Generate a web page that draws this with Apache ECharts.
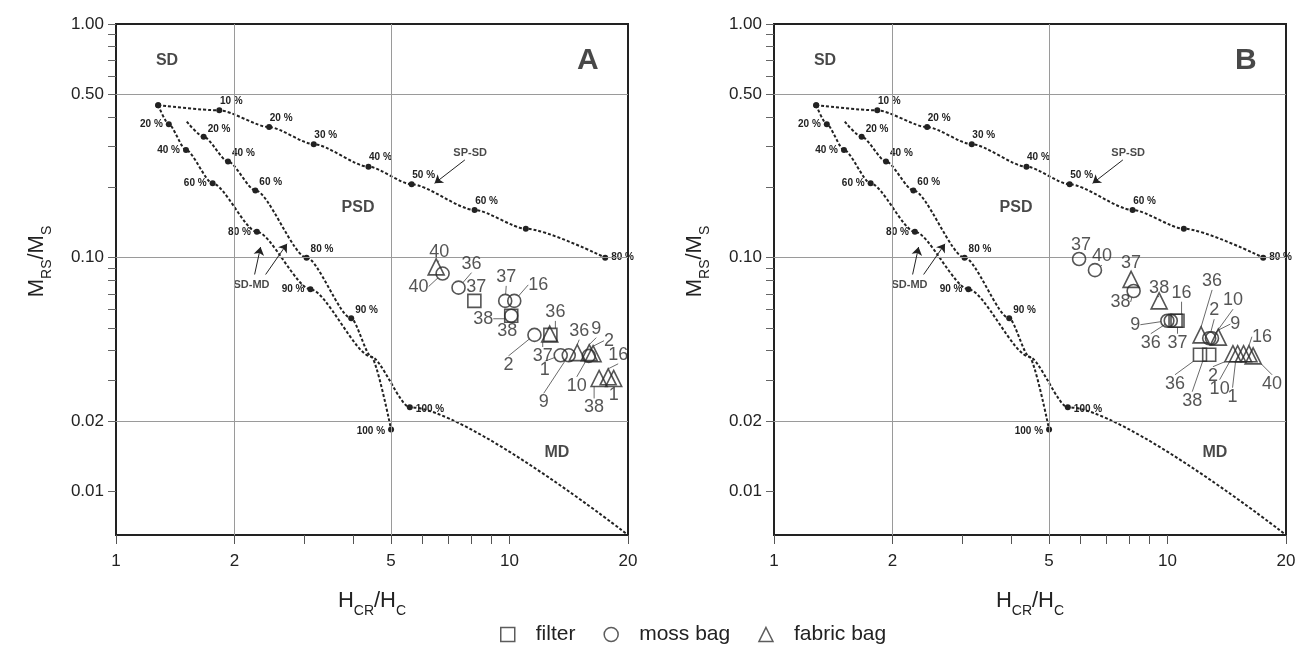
<!DOCTYPE html>
<html><head><meta charset="utf-8">
<script src="https://cdn.jsdelivr.net/npm/echarts@6/dist/echarts.min.js"></script>
<style>html,body{margin:0;padding:0;background:#fff}#c{width:1301px;height:648px}</style>
</head><body><div id="c"></div>
<script>
// ---------- axes ----------
const X_LABELS = [1, 2, 5, 10, 20];
const X_TICKS = [1, 2, 3, 4, 5, 6, 7, 8, 9, 10, 20];
const Y_LABELS = [0.01, 0.02, 0.10, 0.50, 1.00];
const Y_TICKS = [0.01, 0.02, 0.03, 0.04, 0.05, 0.06, 0.07, 0.08, 0.09, 0.1, 0.2, 0.3, 0.4, 0.5, 0.6, 0.7, 0.8, 0.9, 1.0];
const GRID_X = [2, 5];
const GRID_Y = [0.5, 0.1, 0.02];

// ---------- mixing curves (Dunlop 2002) ----------
// label: null = no dot, '' = dot without text
const SPSD_X = [1.28, 1.83, 2.45, 3.18, 4.38, 5.64, 8.15, 11.0, 17.5];
const SPSD_Y = [0.449, 0.427, 0.362, 0.306, 0.245, 0.206, 0.160, 0.133, 0.100];
const SPSD_LBL = ['', '10 %', '20 %', '30 %', '40 %', '50 %', '60 %', '', '80 %'];

const SDMD1_X = [1.28, 1.362, 1.506, 1.76, 2.28, 3.12, 4.45, 5.58, 20];
const SDMD1_Y = [0.449, 0.372, 0.289, 0.208, 0.129, 0.0732, 0.0377, 0.0229, 0.0065];
const SDMD1_LBL = ['', '20 %', '40 %', '60 %', '80 %', '90 %', null, '100 %', null];

const SDMD2_X = [1.513, 1.67, 1.926, 2.26, 3.05, 3.96, 4.45, 5.0];
const SDMD2_Y = [0.382, 0.329, 0.258, 0.194, 0.100, 0.055, 0.0377, 0.0184];
const SDMD2_LBL = [null, '20 %', '40 %', '60 %', '80 %', '90 %', null, '100 %'];

// ---------- samples, panel A ----------
const A_FILTER = [[8.14, 0.0653], [10.1, 0.0564], [12.7, 0.0467]];
const A_FILTER_ID = ['37', '38', '36'];
const A_MOSS = [[6.76, 0.0855], [7.42, 0.0744], [9.75, 0.0653], [10.28, 0.0653], [10.1, 0.0564], [11.57, 0.0467], [13.49, 0.0382], [14.14, 0.0382], [15.9, 0.038]];
const A_MOSS_ID = ['40', '36', '37', '16', '38', '2', '1', '9', '10'];
const A_FABRIC = [[6.51, 0.0913], [12.65, 0.0471], [14.86, 0.0392], [15.94, 0.0392], [16.3, 0.0388], [16.89, 0.0304], [17.81, 0.0309], [18.39, 0.0304]];
const A_FABRIC_ID = ['40', '37', '36', '9', '2', '38', '16', '1'];

// ---------- samples, panel B ----------
const B_FILTER = [[10.48, 0.0537], [10.6, 0.0537], [12.09, 0.0384], [12.76, 0.0384]];
const B_FILTER_ID = ['16', '37', '36', '38'];
const B_MOSS = [[5.96, 0.0987], [6.54, 0.0884], [8.2, 0.072], [9.99, 0.0537], [10.19, 0.0537], [12.76, 0.0452], [12.97, 0.0452]];
const B_MOSS_ID = ['37', '40', '38', '9', '36', '2', '10'];
const B_FABRIC = [[8.08, 0.0807], [9.52, 0.0653], [12.17, 0.0467], [13.46, 0.0457], [14.66, 0.0388], [15.07, 0.0388], [15.6, 0.0388], [16.1, 0.0388], [16.5, 0.038]];
const B_FABRIC_ID = ['37', '38', '36', '9', '2', '10', '1', '16', '40'];

// ---------- annotations (data coordinates) ----------
const REGIONS = [['SD', 1.348, 0.694], ['PSD', 4.12, 0.163], ['MD', 13.2, 0.0146]];
const CURVE_NAMES = [['SP-SD', 7.94, 0.2805], ['SD-MD', 2.21, 0.0764]];
const ARROWS = [[[2.25, 0.0847], [2.33, 0.111]], [[2.40, 0.0847], [2.72, 0.1146]], [[7.7, 0.262], [6.45, 0.208]]];
const PANEL_POS = [15.8, 0.694];
const PANELS = ['A', 'B'];

// ---------- styling (not data) ----------
const LBL_OFF = {
  A_FILTER: [[2, -14], [-28, 3], [5, -23]],
  A_MOSS: [[-24, 13], [13, -24], [1, -24], [24, -16], [-4, 15], [-26, 30], [-16, 15], [-25, 47], [-12, 30]],
  A_FABRIC: [[3, -15], [-7, 22], [2, -22], [7, -24], [16, -13], [-5, 29], [10, -22], [0, 17]],
  B_FILTER: [[6, -28], [0, 22], [-25, 29], [-17, 46]],
  B_MOSS: [[2, -14], [7, -14], [-13, 11], [-32, 4], [-20, 22], [5, -28], [21, -38]],
  B_FABRIC: [[0, -16], [0, -13], [11, -54], [17, -13], [-20, 22], [-18, 35], [-11, 43], [13, -17], [19, 28]]
};
const PCT_POS = { SPSD: 'top', SDMD1: 'left', SDMD2: 'right' };
const FONT = 'Liberation Sans, Arial, sans-serif';
const INK = '#222';

const chart = echarts.init(document.getElementById('c'), null, { renderer: 'canvas' });

function curve(xs, ys, lbls, key, g) {
  return {
    type: 'line', xAxisIndex: g, yAxisIndex: g, z: 3, silent: true,
    smooth: 0.25, smoothMonotone: 'x',
    lineStyle: { color: INK, width: 2, type: [3, 2] },
    data: xs.map((x, i) => {
      const l = lbls[i];
      const it = { value: [x, ys[i]] };
      if (l === null || l === undefined) { it.symbol = 'none'; }
      else {
        it.symbol = 'circle'; it.symbolSize = 6;
        let pos = PCT_POS[key];
        let off = [0, 0];
        if (key === 'SPSD') off = [12, 2];
        if (key === 'SDMD2') off = [-2, -8];
        if (l === '100 %' && key === 'SDMD1') { pos = 'right'; off = [0, 2]; }
        if (l === '100 %' && key === 'SDMD2') { pos = 'left'; off = [0, 2]; }
        if (l === '80 %' && key === 'SPSD') { pos = 'right'; off = [0, 0]; }
        it.label = { show: l !== '', formatter: l, position: pos, offset: off, distance: 3,
          fontSize: 10, fontWeight: 'bold', color: INK, fontFamily: FONT };
      }
      return it;
    }),
    itemStyle: { color: INK }
  };
}

function samples(xy, ids, offs, name, symbol, size, g) {
  return {
    type: 'scatter', name: name, xAxisIndex: g, yAxisIndex: g, z: 5,
    symbol: symbol, symbolSize: size,
    itemStyle: { color: 'rgba(255,255,255,0)', borderColor: '#2a2a2a', borderWidth: 1.6 },
    data: xy.map((p, i) => ({ value: p, name: ids[i] })),
    label: { show: true, position: 'inside', formatter: p => p.name, fontSize: 18, color: '#2a2a2a', fontFamily: FONT },
    labelLayout: p => ({ dx: offs[p.dataIndex][0], dy: offs[p.dataIndex][1] }),
    labelLine: { show: true, lineStyle: { color: '#444', width: 0.8 } }
  };
}

function textItem(t, x, y, size) {
  return { value: [x, y], label: { show: true, position: 'inside', formatter: t, fontSize: size, fontWeight: 'bold', color: '#1a1a1a', fontFamily: FONT } };
}

function annotations(g) {
  const data = [];
  REGIONS.forEach(r => data.push(textItem(r[0], r[1], r[2], 16)));
  CURVE_NAMES.forEach(r => data.push(textItem(r[0], r[1], r[2], 11)));
  data.push(textItem(PANELS[g], PANEL_POS[0], PANEL_POS[1], 30));
  const ml = [];
  GRID_X.forEach(v => ml.push({ xAxis: v }));
  GRID_Y.forEach(v => ml.push({ yAxis: v }));
  const arrows = ARROWS.map(a => [{ coord: a[0], symbol: 'none' }, { coord: a[1], symbol: 'arrow', symbolSize: 8 }]);
  return [{
    type: 'scatter', xAxisIndex: g, yAxisIndex: g, z: 1, silent: true,
    symbol: 'circle', symbolSize: 1, itemStyle: { color: 'rgba(0,0,0,0)' },
    data: data,
    markLine: { silent: true, symbol: 'none', label: { show: false }, animation: false,
      lineStyle: { color: '#9a9a9a', width: 1, type: 'solid' }, data: ml }
  }, {
    type: 'scatter', xAxisIndex: g, yAxisIndex: g, z: 4, silent: true, symbol: 'none', data: [],
    markLine: { silent: true, label: { show: false }, animation: false,
      lineStyle: { color: INK, width: 1, type: 'solid' }, data: arrows }
  }];
}

const RICH = {
  m: { fontSize: 22, color: INK, fontFamily: FONT, verticalAlign: 'bottom', padding: [0, 0, 6, 0] },
  s: { fontSize: 14, color: INK, fontFamily: FONT, verticalAlign: 'bottom' }
};

function xAxis(g) {
  return {
    type: 'log', logBase: 10, gridIndex: g, min: 1, max: 20,
    name: '{m|H}{s|CR}{m|/H}{s|C}', nameLocation: 'middle', nameGap: 55,
    nameTextStyle: { rich: RICH },
    axisLine: { show: true, onZero: false, lineStyle: { color: INK, width: 2 } },
    axisTick: { show: true, length: 9, customValues: X_TICKS, lineStyle: { color: '#555' } },
    axisLabel: { customValues: X_LABELS, fontSize: 17, color: INK, fontFamily: FONT, margin: 18,
      formatter: v => String(Math.round(v)) },
    splitLine: { show: false }, minorTick: { show: false }, minorSplitLine: { show: false }
  };
}
function yAxis(g) {
  return {
    type: 'log', logBase: 10, gridIndex: g, min: 0.0065, max: 1,
    name: '{m|M}{s|RS}{m|/M}{s|S}', nameLocation: 'middle', nameGap: 62, nameRotate: 90,
    nameTextStyle: { padding: [0, 0, 0, 36], rich: RICH },
    axisLine: { show: true, onZero: false, lineStyle: { color: INK, width: 2 } },
    axisTick: { show: true, length: 8, customValues: Y_TICKS, lineStyle: { color: '#666' } },
    axisLabel: { customValues: Y_LABELS, fontSize: 17, color: INK, fontFamily: FONT, margin: 12,
      formatter: v => Number(v).toFixed(2) },
    splitLine: { show: false }, minorTick: { show: false }, minorSplitLine: { show: false }
  };
}

const series = [];
[0, 1].forEach(g => {
  annotations(g).forEach(s => series.push(s));
  series.push(curve(SPSD_X, SPSD_Y, SPSD_LBL, 'SPSD', g));
  series.push(curve(SDMD1_X, SDMD1_Y, SDMD1_LBL, 'SDMD1', g));
  series.push(curve(SDMD2_X, SDMD2_Y, SDMD2_LBL, 'SDMD2', g));
});
series.push(samples(A_FILTER, A_FILTER_ID, LBL_OFF.A_FILTER, 'filter', 'rect', 13, 0));
series.push(samples(A_MOSS, A_MOSS_ID, LBL_OFF.A_MOSS, 'moss bag', 'circle', 13, 0));
series.push(samples(A_FABRIC, A_FABRIC_ID, LBL_OFF.A_FABRIC, 'fabric bag', 'triangle', 16, 0));
series.push(samples(B_FILTER, B_FILTER_ID, LBL_OFF.B_FILTER, 'filter', 'rect', 13, 1));
series.push(samples(B_MOSS, B_MOSS_ID, LBL_OFF.B_MOSS, 'moss bag', 'circle', 13, 1));
series.push(samples(B_FABRIC, B_FABRIC_ID, LBL_OFF.B_FABRIC, 'fabric bag', 'triangle', 16, 1));

chart.setOption({
  animation: false,
  backgroundColor: '#fff',
  textStyle: { fontFamily: FONT },
  grid: [
    { left: 116, right: 673, top: 24, bottom: 113, show: true, borderColor: INK, borderWidth: 2, backgroundColor: 'transparent' },
    { left: 774, right: 15, top: 24, bottom: 113, show: true, borderColor: INK, borderWidth: 2, backgroundColor: 'transparent' }
  ],
  xAxis: [xAxis(0), xAxis(1)],
  yAxis: [yAxis(0), yAxis(1)],
  legend: {
    data: ['filter', 'moss bag', 'fabric bag'], bottom: -2, left: 495,
    itemWidth: 14, itemHeight: 14, itemGap: 28,
    textStyle: { fontSize: 21, color: INK, fontFamily: FONT, padding: [0, 0, 0, 16] },
    itemStyle: { color: 'rgba(255,255,255,0)', borderColor: '#333', borderWidth: 1.5 }
  },
  series: series
});
</script></body></html>
